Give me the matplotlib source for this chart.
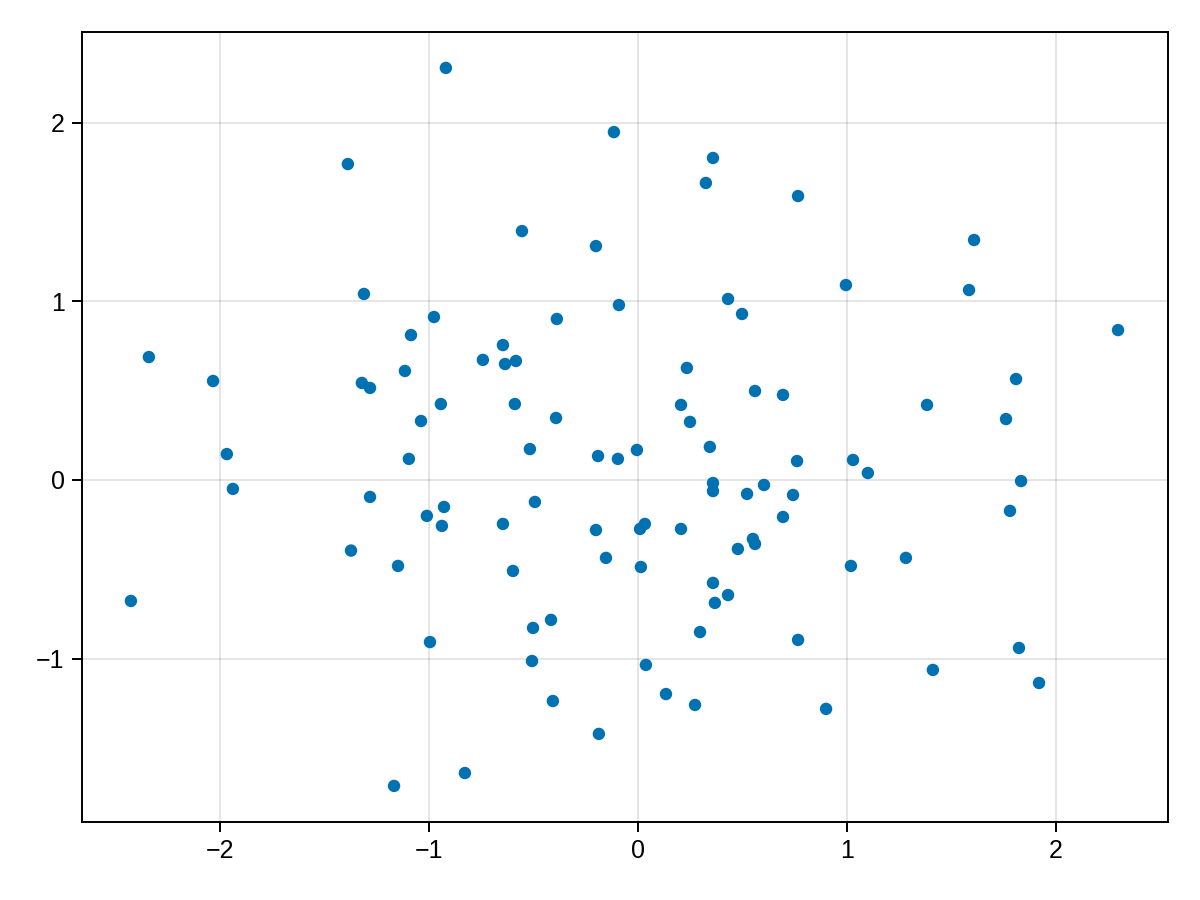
import matplotlib
matplotlib.use("Agg")
import matplotlib.pyplot as plt
import numpy as np

# point coordinates
xs = [
    -0.919, -0.115, 0.359, 0.325, -1.388, 0.766, -0.555, -0.201, 1.608, 0.995,
    1.584, 2.297, -1.311, 0.431, -0.091, 0.498, -0.388, -0.976, -1.086, -2.340,
    -0.646, -0.742, -0.584, -0.636, -1.115, 0.234, -2.033, -1.321, -1.282, 0.560,
    0.694, 1.809, -0.943, -0.589, 0.206, 1.383, 1.761, -1.038, -0.392, 0.249,
    0.344, -0.517, -1.967, -0.005, -0.191, -0.096, -1.096, 0.761, 1.029, 1.100,
    -1.938, 0.359, 0.603, 1.833, 0.359, 0.522, 0.742, -1.282, -0.493, -0.928,
    -1.010, 0.694, 1.780, -0.938, -0.646, 0.033, 0.010, -0.201, 0.206, 0.550,
    0.560, -1.373, 0.478, -0.153, 1.282, -1.148, 0.014, 1.019, -0.598, 0.359,
    0.431, 0.368, -2.426, -0.416, -0.502, 0.297, 0.766, -0.995, 1.823, -0.507,
    0.038, 1.411, 1.919, 0.134, -0.407, 0.273, 0.900, -0.187, -0.828, -1.167,
]
ys = [
    2.306, 1.947, 1.802, 1.662, 1.768, 1.589, 1.393, 1.309, 1.343, 1.091,
    1.063, 0.839, 1.041, 1.013, 0.979, 0.929, 0.901, 0.912, 0.811, 0.688,
    0.755, 0.672, 0.666, 0.649, 0.610, 0.627, 0.554, 0.543, 0.515, 0.498,
    0.476, 0.565, 0.425, 0.425, 0.420, 0.420, 0.341, 0.330, 0.347, 0.325,
    0.185, 0.173, 0.145, 0.168, 0.134, 0.118, 0.118, 0.106, 0.112, 0.039,
    -0.050, -0.017, -0.028, -0.006, -0.062, -0.078, -0.084, -0.095, -0.123, -0.151,
    -0.201, -0.207, -0.173, -0.257, -0.246, -0.246, -0.274, -0.280, -0.274, -0.330,
    -0.358, -0.395, -0.386, -0.436, -0.436, -0.481, -0.487, -0.481, -0.509, -0.576,
    -0.644, -0.688, -0.677, -0.783, -0.828, -0.851, -0.895, -0.907, -0.940, -1.013,
    -1.035, -1.063, -1.136, -1.198, -1.237, -1.259, -1.281, -1.421, -1.640, -1.712,
]
xticks = [-2, -1, 0, 1, 2]
yticks = [-1, 0, 1, 2]

plt.rcParams["font.family"] = ["Liberation Sans", "DejaVu Sans"]

fig = plt.figure(figsize=(12, 9), dpi=100)
ax = fig.add_axes([82 / 1200, 78 / 900, 1086 / 1200, 790 / 900])

ax.scatter(xs, ys, s=80, color="#0072B2", edgecolors="none", zorder=3)

ax.set_xlim(-2.66, 2.536)
ax.set_ylim(-1.914, 2.507)
ax.set_xticks(xticks)
ax.set_yticks(yticks)
ax.set_xticklabels([str(t).replace("-", "\u2212") for t in xticks])
ax.set_yticklabels([str(t).replace("-", "\u2212") for t in yticks])

ax.grid(True, color="black", alpha=0.12, linewidth=1.2)
ax.set_axisbelow(True)
for sp in ax.spines.values():
    sp.set_linewidth(1.4)
ax.tick_params(direction="out", length=7.5, width=1.4, labelsize=18, pad=5)

fig.savefig("out.png", dpi=100)
